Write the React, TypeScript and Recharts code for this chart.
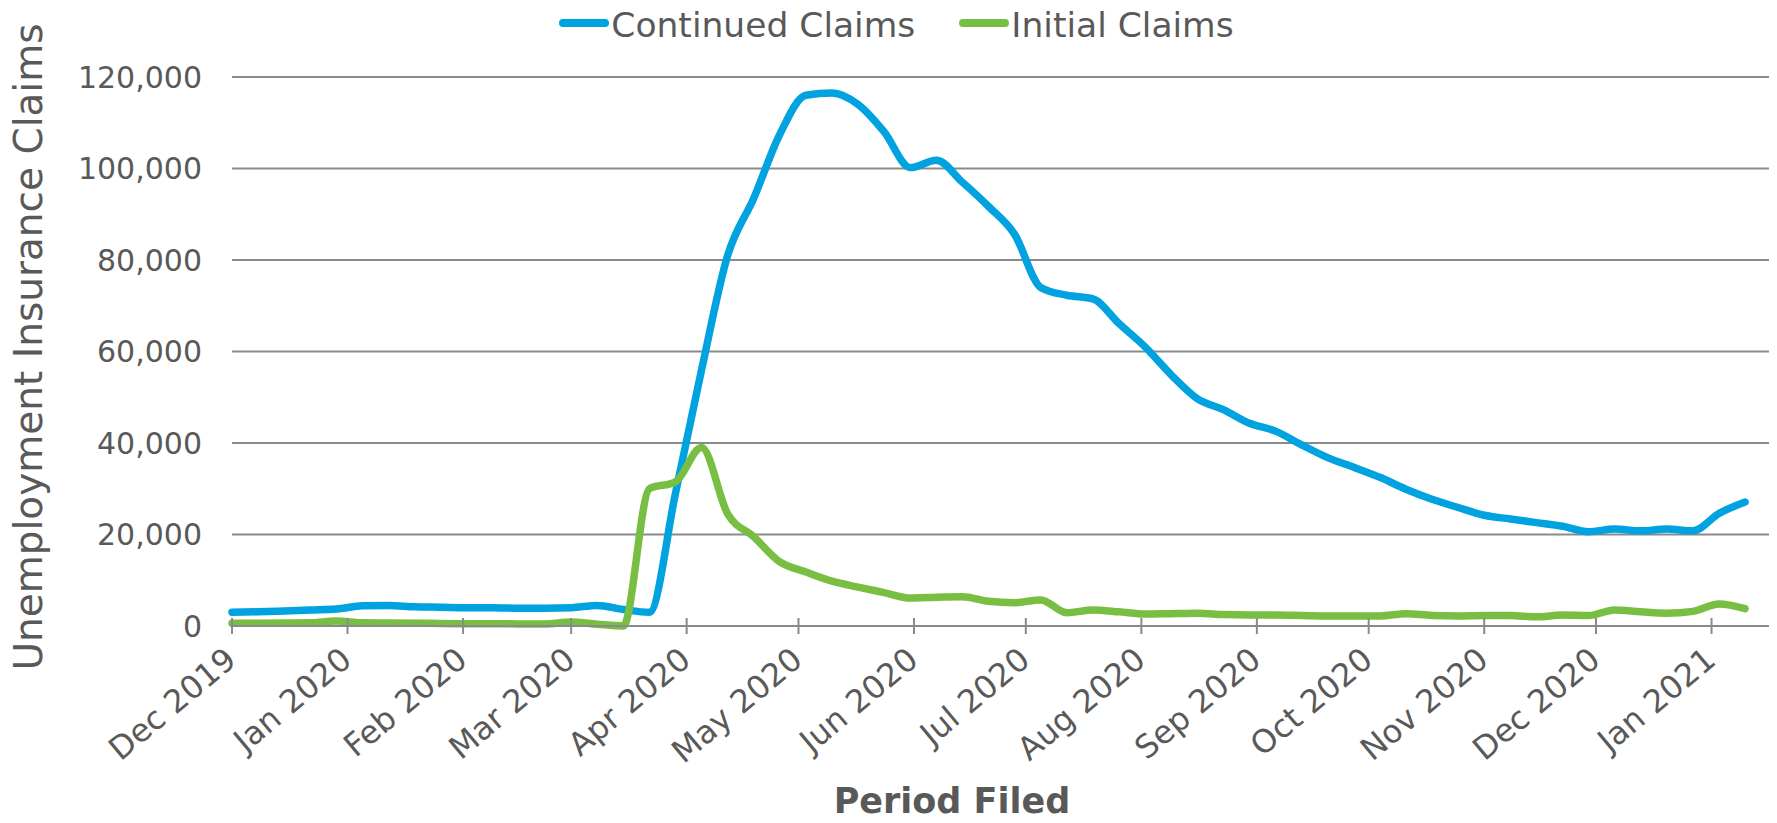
import { LineChart, Line, XAxis, YAxis, CartesianGrid, Legend } from 'recharts';

// weekly periods (week starting Sunday)
const weeks = [
  '2019-12-01', '2019-12-08', '2019-12-15', '2019-12-22', '2019-12-29',
  '2020-01-05', '2020-01-12', '2020-01-19', '2020-01-26',
  '2020-02-02', '2020-02-09', '2020-02-16', '2020-02-23',
  '2020-03-01', '2020-03-08', '2020-03-15', '2020-03-22', '2020-03-29',
  '2020-04-05', '2020-04-12', '2020-04-19', '2020-04-26',
  '2020-05-03', '2020-05-10', '2020-05-17', '2020-05-24', '2020-05-31',
  '2020-06-07', '2020-06-14', '2020-06-21', '2020-06-28',
  '2020-07-05', '2020-07-12', '2020-07-19', '2020-07-26',
  '2020-08-02', '2020-08-09', '2020-08-16', '2020-08-23', '2020-08-30',
  '2020-09-06', '2020-09-13', '2020-09-20', '2020-09-27',
  '2020-10-04', '2020-10-11', '2020-10-18', '2020-10-25',
  '2020-11-01', '2020-11-08', '2020-11-15', '2020-11-22', '2020-11-29',
  '2020-12-06', '2020-12-13', '2020-12-20', '2020-12-27',
  '2021-01-03', '2021-01-10',
];

const continuedClaims = [
  3000, 3100, 3300, 3500, 3700,
  4400, 4500, 4200, 4100,
  4000, 4000, 3900, 3900,
  4000, 4500, 3600, 3000, 29000,
  56000, 81000, 93500, 107500,
  116000, 116500, 114000, 108000, 100200,
  101800, 97000, 91700, 85600,
  74000, 72300, 71500, 66100,
  61000, 54900, 49700, 47300, 44300,
  42600, 39600, 36800, 34700,
  32500, 29900, 27700, 25900,
  24200, 23400, 22600, 21800, 20600,
  21200, 20800, 21200, 20800,
  24600, 27100,
];

const initialClaims = [
  600, 600, 650, 700, 1100,
  700, 650, 600, 550,
  500, 500, 450, 450,
  900, 400, 0, 30000, 31500,
  39000, 24500, 19500, 14000,
  11800, 9800, 8500, 7300, 6100,
  6300, 6400, 5400, 5100,
  5700, 2900, 3500, 3100,
  2600, 2700, 2800, 2500, 2400,
  2400, 2300, 2200, 2200,
  2200, 2700, 2300, 2200,
  2300, 2300, 2000, 2400, 2300,
  3500, 3100, 2800, 3200,
  4800, 3800,
];

const monthTicks = [
  '2019-12-01', '2020-01-01', '2020-02-01', '2020-03-01', '2020-04-01',
  '2020-05-01', '2020-06-01', '2020-07-01', '2020-08-01', '2020-09-01',
  '2020-10-01', '2020-11-01', '2020-12-01', '2021-01-01',
];
const monthNames = ['Jan', 'Feb', 'Mar', 'Apr', 'May', 'Jun', 'Jul', 'Aug', 'Sep', 'Oct', 'Nov', 'Dec'];
const yTicks = [0, 20000, 40000, 60000, 80000, 100000, 120000];

const BLUE = '#00A3DF';
const GREEN = '#78BE43';
const GRID = '#8A8A8A';
const TEXT = '#595959';
const FONT = '"DejaVu Sans", sans-serif';

const toTime = (d: string) => Date.parse(d + 'T00:00:00Z');

const data = weeks.map((w, i) => ({
  t: toTime(w),
  continued: continuedClaims[i],
  initial: initialClaims[i],
}));

const xDomain = [toTime('2019-12-01'), Date.parse('2021-01-16T10:00:00Z')];

// month label, rotated, with a tick mark crossing the axis line
const MonthTick = (props: any) => {
  const { x, y, payload } = props;
  const d = new Date(payload.value);
  const label = `${monthNames[d.getUTCMonth()]} ${d.getUTCFullYear()}`;
  const tx = x + 6;
  const ty = y + 37;
  return (
    <g>
      <line x1={x} x2={x} y1={y - 8} y2={y + 8} stroke={GRID} strokeWidth={2} />
      <text
        x={tx}
        y={ty}
        transform={`rotate(-40 ${tx} ${ty})`}
        textAnchor="end"
        fill={TEXT}
        fontSize={32}
        fontFamily={FONT}
      >
        {label}
      </text>
    </g>
  );
};

const legendItems = [
  { name: 'Continued Claims', color: BLUE },
  { name: 'Initial Claims', color: GREEN },
];

const renderLegend = () => (
  <div
    style={{
      display: 'flex',
      justifyContent: 'center',
      alignItems: 'flex-start',
      boxSizing: 'border-box',
      height: 40,
      paddingTop: 5,
      paddingLeft: 16,
      fontFamily: FONT,
      fontSize: 34.5,
      color: TEXT,
    }}
  >
    {legendItems.map((item, i) => (
      <div key={item.name} style={{ display: 'flex', alignItems: 'flex-start', marginLeft: i > 0 ? 44 : 0 }}>
        <span
          style={{
            display: 'inline-block',
            flexShrink: 0,
            width: 50,
            height: 8,
            borderRadius: 4,
            background: item.color,
            marginTop: 14,
            marginRight: 2,
          }}
        />
        <span style={{ lineHeight: 'normal', whiteSpace: 'nowrap' }}>{item.name}</span>
      </div>
    ))}
  </div>
);

export default function App() {
  return (
    <div style={{ position: 'absolute', left: 0, top: 0, width: 1777, height: 823, background: '#fff' }}>
      <LineChart width={1777} height={823} data={data} margin={{ top: 37, right: 8, left: 0, bottom: 0 }}>
        <Legend
          verticalAlign="top"
          align="center"
          height={40}
          content={renderLegend}
          wrapperStyle={{ top: 0, left: 0, width: 1777 }}
        />
        <CartesianGrid vertical={false} stroke={GRID} strokeWidth={2} />
        <XAxis
          type="number"
          dataKey="t"
          domain={xDomain}
          ticks={monthTicks.map(toTime)}
          interval={0}
          tick={<MonthTick />}
          tickLine={false}
          tickSize={0}
          tickMargin={0}
          axisLine={{ stroke: GRID, strokeWidth: 2 }}
          height={197}
          label={{
            content: () => (
              <text x={952} y={813} textAnchor="middle" fill={TEXT} fontSize={35} fontWeight="bold" fontFamily={FONT}>
                Period Filed
              </text>
            ),
          }}
        />
        <YAxis
          type="number"
          domain={[0, 120000]}
          ticks={yTicks}
          tickFormatter={(v: number) => v.toLocaleString('en-US')}
          tick={{ fill: TEXT, fontSize: 30, fontFamily: FONT }}
          axisLine={false}
          tickLine={false}
          tickSize={0}
          tickMargin={30}
          width={232}
          label={{
            content: () => (
              <text
                x={42}
                y={347}
                transform="rotate(-90 42 347)"
                textAnchor="middle"
                fill={TEXT}
                fontSize={39}
                fontFamily={FONT}
              >
                Unemployment Insurance Claims
              </text>
            ),
          }}
        />
        <Line
          type="monotone"
          dataKey="continued"
          name="Continued Claims"
          stroke={BLUE}
          strokeWidth={7.5}
          strokeLinecap="round"
          strokeLinejoin="round"
          dot={false}
          activeDot={false}
          isAnimationActive={false}
        />
        <Line
          type="monotone"
          dataKey="initial"
          name="Initial Claims"
          stroke={GREEN}
          strokeWidth={7.5}
          strokeLinecap="round"
          strokeLinejoin="round"
          dot={false}
          activeDot={false}
          isAnimationActive={false}
        />
      </LineChart>
    </div>
  );
}
